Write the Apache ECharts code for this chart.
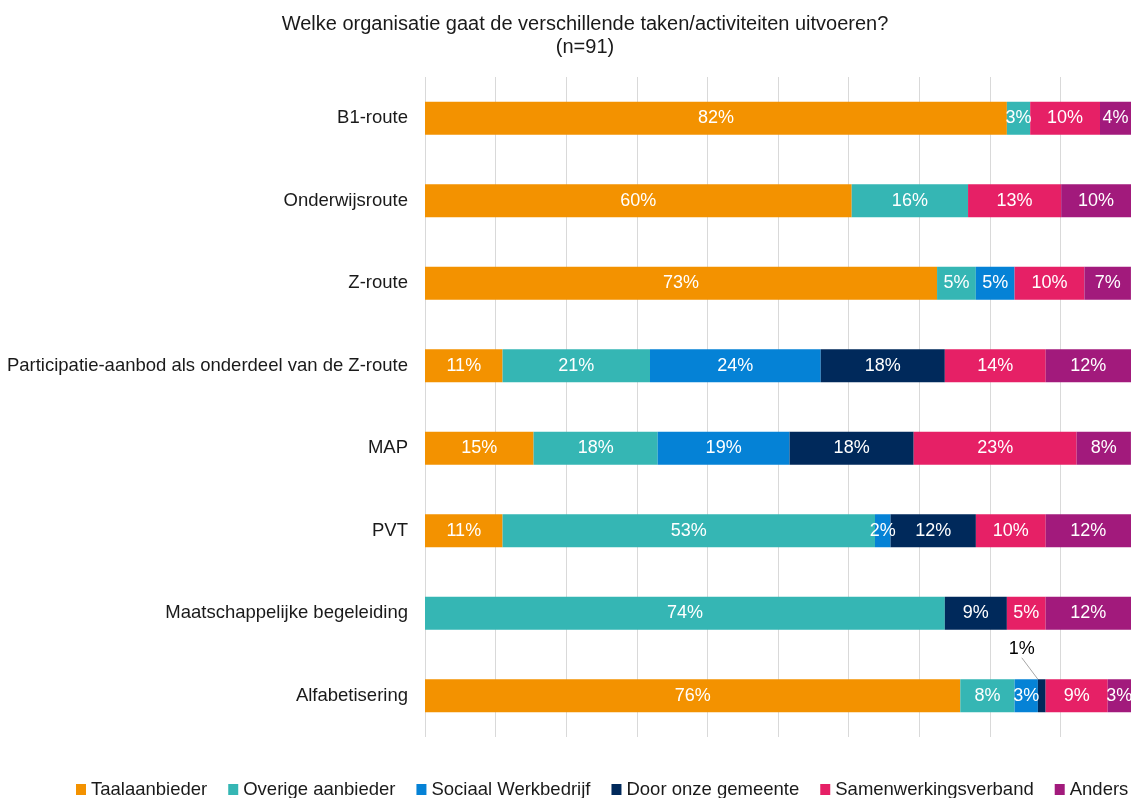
<!DOCTYPE html>
<html>
<head>
<meta charset="utf-8">
<script src="https://cdn.jsdelivr.net/npm/echarts@6/dist/echarts.min.js"></script>
<style>
html,body{margin:0;padding:0;background:#fff;}
#chart{width:1131px;height:798px;}
</style>
</head>
<body>
<div id="chart"></div>
<script>
const titleText = 'Welke organisatie gaat de verschillende taken/activiteiten uitvoeren?\n(n=91)';
const categories = ['B1-route','Onderwijsroute','Z-route','Participatie-aanbod als onderdeel van de Z-route','MAP','PVT','Maatschappelijke begeleiding','Alfabetisering'];
const seriesNames = ['Taalaanbieder','Overige aanbieder','Sociaal Werkbedrijf','Door onze gemeente','Samenwerkingsverband','Anders'];
const taalaanbieder      = [82.42, 60.44, 72.53, 10.99, 15.38, 10.99, null, 75.82];
const overigeAanbieder   = [3.30, 16.48, 5.49, 20.88, 17.58, 52.75, 73.63, 7.69];
const sociaalWerkbedrijf = [null, null, 5.49, 24.18, 18.68, 2.20, null, 3.30];
const doorGemeente       = [null, null, null, 17.58, 17.58, 12.09, 8.79, 1.10];
const samenwerking       = [9.89, 13.19, 9.89, 14.29, 23.08, 9.89, 5.49, 8.79];
const anders             = [4.40, 9.89, 6.59, 12.09, 7.69, 12.09, 12.09, 3.30];
const seriesData = [taalaanbieder, overigeAanbieder, sociaalWerkbedrijf, doorGemeente, samenwerking, anders];
const colors = ['#F39200','#35B6B4','#0582D6','#00295B','#E62066','#A21A7C'];

const FONT = "'Liberation Sans', Arial, sans-serif";
const chart = echarts.init(document.getElementById('chart'), null, {renderer:'canvas'});

const series = seriesNames.map((name, si) => ({
  name,
  type: 'bar',
  stack: 'total',
  barWidth: 33,
  itemStyle: { color: colors[si] },
  label: {
    show: true,
    position: 'inside',
    color: '#fff',
    fontFamily: FONT,
    fontSize: 18,
    formatter: p => (p.value == null ? '' : Math.round(p.value) + '%')
  },
  labelLine: { show: false },
  labelLayout: (si === 3) ? (p => (p.dataIndex === 7 ? { dx: -20, dy: -47 } : {})) : undefined,
  data: seriesData[si].map((v, i) => {
    if (si === 3 && i === 7) {
      return { value: v, label: { color: '#000' }, labelLine: { show: true, lineStyle: { color: '#a6a6a6', width: 1 } } };
    }
    return v;
  })
}));

chart.setOption({
  animation: false,
  color: colors,
  title: {
    text: titleText,
    left: 580,
    top: 8,
    textAlign: 'center',
    textStyle: { fontFamily: FONT, fontSize: 20, fontWeight: 'normal', color: '#1a1a1a', lineHeight: 23 }
  },
  legend: {
    top: 779,
    left: 76,
    icon: 'rect',
    itemWidth: 10,
    itemHeight: 11,
    itemGap: 21,
    padding: 0,
    textStyle: { fontFamily: FONT, fontSize: 18.5, color: '#1a1a1a', lineHeight: 21 },
    data: seriesNames
  },
  grid: { left: 425, right: 0, top: 77, bottom: 61, containLabel: false },
  xAxis: {
    type: 'value',
    min: 0, max: 100, interval: 10,
    axisLabel: { show: false },
    axisLine: { show: false },
    axisTick: { show: false },
    splitLine: { show: true, lineStyle: { color: '#d9d9d9', width: 1 } }
  },
  yAxis: {
    type: 'category',
    inverse: true,
    data: categories,
    axisLine: { show: false },
    axisTick: { show: false },
    axisLabel: { fontFamily: FONT, fontSize: 18.5, color: '#1a1a1a', margin: 17 }
  },
  series
});
</script>
</body>
</html>
